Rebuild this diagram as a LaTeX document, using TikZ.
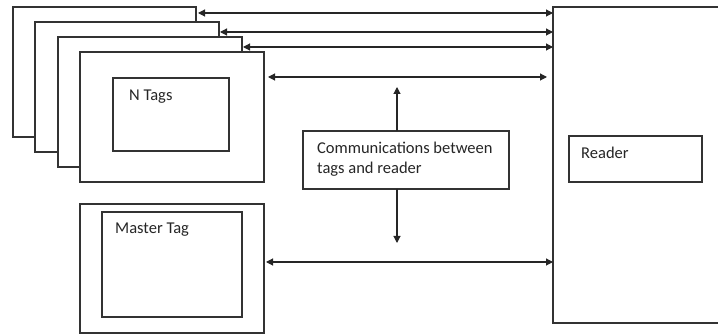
\documentclass[tikz,border=0pt]{standalone}
\usepackage{fontspec}
\setmainfont{Carlito}
\usetikzlibrary{arrows.meta}
\tikzset{
  box/.style={draw=black!80, line width=1.1pt, fill=white, rectangle,
    inner sep=0pt, outer sep=0pt, anchor=north west},
  lbl/.style={inner sep=0pt, text=black!85, font=\fontsize{16.5}{20}\selectfont},
  link/.style={draw=black!85, line width=1.1pt,
    {Triangle[length=7pt,width=7pt]}-{Triangle[length=7pt,width=7pt]}},
  oneway/.style={draw=black!85, line width=1.1pt,
    -{Triangle[length=7pt,width=7pt]}}
}
\begin{document}
\begin{tikzpicture}[x=1pt,y=-1pt]
\useasboundingbox (0,0) rectangle (718,336);
\clip (0,0) rectangle (718,336);

% stack of tags, back to front
\node[box, minimum width=183pt, minimum height=130pt] (t1) at (13,7) {};
\node[box, minimum width=184pt, minimum height=130pt] (t2) at (35,22) {};
\node[box, minimum width=184pt, minimum height=130pt] (t3) at (58,37) {};
\node[box, minimum width=184pt, minimum height=130pt] (t4) at (80,52) {};
\node[box, minimum width=116pt, minimum height=73pt] (ntags) at (113,78) {};
\node[lbl, anchor=base west] (ntagstext) at (129,101) {N Tags};

% master tag
\node[box, minimum width=184pt, minimum height=129pt] (master) at (80,204) {};
\node[box, minimum width=140pt, minimum height=105pt] (mastin) at (102,212) {};
\node[lbl, anchor=base west] (mastertext) at (115,234) {Master Tag};

% reader
\node[box, minimum width=200pt, minimum height=316pt] (reader) at (553,7) {};
\node[box, minimum width=133pt, minimum height=46pt] (readin) at (569,136) {};
\node[lbl, anchor=base west] (readertext) at (581,159) {Reader};

% communications label
\node[box, minimum width=206pt, minimum height=58pt] (comm) at (303,131) {};
\node[lbl, anchor=north west, align=left] (commtext) at (317,141.5)
  {Communications between\\tags and reader};

% levels of the links
\coordinate (r1) at (0,13);
\coordinate (r2) at (0,32);
\coordinate (r3) at (0,47);
\coordinate (r4) at (0,77);
\coordinate (r5) at (0,262);
\coordinate (up) at (397,87);
\coordinate (down) at (397,243);

\draw[link, shorten <=2pt] (t1.east |- r1) -- (reader.west |- r1);
\draw[link, shorten <=1pt] (t2.east |- r2) -- (reader.west |- r2);
\draw[link, shorten <=1pt] (t3.east |- r3) -- (reader.west |- r3);
\draw[link, shorten <=4pt, shorten >=6pt] (t4.east |- r4) -- (reader.west |- r4);
\draw[link, shorten <=2pt] (master.east |- r5) -- (reader.west |- r5);

\draw[oneway] (comm.north -| up) -- (up);
\draw[oneway] (comm.south -| down) -- (down);
\end{tikzpicture}
\end{document}
